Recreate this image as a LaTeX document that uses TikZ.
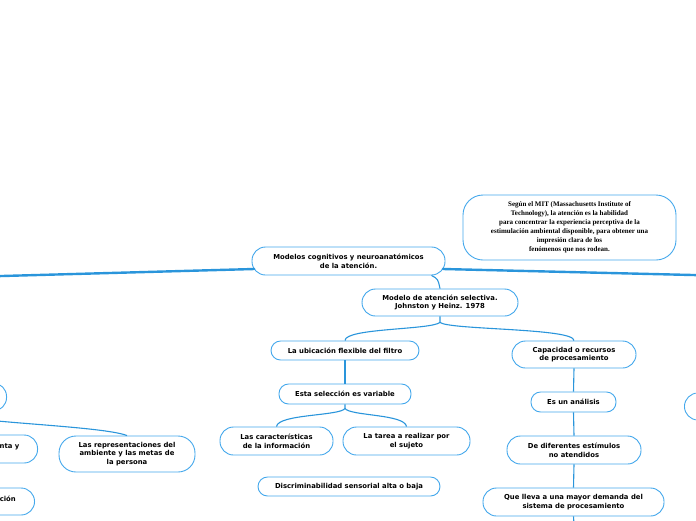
\documentclass[tikz,border=0pt]{standalone}
\usepackage{fontspec}
\usetikzlibrary{calc}
\newfontfamily\nodefont{DejaVu Sans}
\newfontfamily\notefont{Liberation Serif}
\definecolor{linkblue}{HTML}{2A95DB}
\definecolor{boxblue}{HTML}{44A8EC}
\begin{document}
\begin{tikzpicture}[x=1pt,y=-1pt,
  box/.style={draw=boxblue,line width=0.9pt,fill=white,inner sep=0pt,align=center,
    font=\nodefont\bfseries\fontsize{6.85}{8.7}\selectfont,text=black},
  pilltall/.style={box,rounded corners=13.5pt,minimum height=28pt},
  pillshort/.style={box,rounded corners=9.5pt,minimum height=20pt},
  notebox/.style={box,rounded corners=20pt,minimum width=213pt,minimum height=65pt,
    font=\notefont\bfseries\fontsize{7}{8.9}\selectfont},
  edgetext/.style={inner sep=0pt,font=\nodefont\bfseries\fontsize{6.85}{8.7}\selectfont,text=black},
  thick link/.style={draw=linkblue,line width=2.4pt,line cap=round},
  thin link/.style={draw=linkblue,line width=1.1pt},
]
\useasboundingbox (0,0) rectangle (696,520);
\clip (0,0) rectangle (696,520);

% main nodes
\node[pilltall,minimum width=193pt] (root) at (348.5,261) {Modelos cognitivos y neuroanatómicos\\de la atención.};
\node[notebox] (note) at (569.5,227.5) {Según el MIT (Massachusetts Institute of\\Technology), la atención es la habilidad\\para concentrar la experiencia perceptiva de la\\estimulación ambiental disponible, para obtener una\\impresión clara de los\\fenómenos que nos rodean.};
\node[pilltall,minimum width=156pt,minimum height=27pt] (modelo) at (440,302.5) {Modelo de atención selectiva.\\Johnston y Heinz. 1978};
\node[pillshort,minimum width=148pt,minimum height=19pt] (ubic) at (345,350.5) {La ubicación flexible del filtro};
\node[pilltall,minimum width=124pt,minimum height=27pt] (capac) at (574,354.5) {Capacidad o recursos\\de procesamiento};
\node[pillshort,minimum width=132pt] (esta) at (345,394) {Esta selección es variable};
\node[pillshort,minimum width=85pt] (analisis) at (573.5,402) {Es un análisis};
\node[pilltall,minimum width=113pt] (caract) at (276.5,441) {Las características\\de la información};
\node[pilltall,minimum width=127pt] (tarea) at (406.5,441) {La tarea a realizar por\\el sujeto};
\node[pillshort,minimum width=182pt,minimum height=19pt] (discr) at (349,486.5) {Discriminabilidad sensorial alta o baja};
\node[pilltall,minimum width=134pt] (difer) at (574,450) {De diferentes estímulos\\no atendidos};
\node[pilltall,minimum width=181pt] (lleva) at (573.5,502) {Que lleva a una mayor demanda del\\sistema de procesamiento};
\node[box,rounded corners=17pt,minimum width=136pt,minimum height=36pt] (repres) at (127,454) {Las representaciones del\\ambiente y las metas de\\la persona};

% partial nodes at the edges
\node[pilltall,anchor=east,minimum width=120pt] (leftA) at (7,397) {};
\node[pilltall,anchor=east,minimum width=110pt] (leftB) at (38,449) {};
\node[pilltall,anchor=east,minimum width=110pt,minimum height=27pt] (leftC) at (35,501.5) {};
\node[pilltall,anchor=west,minimum width=100pt,minimum height=27pt] (rightA) at (684,406.5) {};
\node[edgetext,anchor=east] (leftBtext) at (19.5,446.5) {nta y};
\node[edgetext,anchor=east] (leftCtext) at (16,498.5) {ción};

% free ends
\coordinate (Lend) at (-5,276.2);
\coordinate (Rend) at (701,275.2);
\coordinate (Bend) at (574,525);

% connectors
\draw[thick link] ($(root.west)+(2.5,8)$) -- (Lend);
\draw[thick link] ($(root.east)+(-2.5,8)$) -- (Rend);
\draw[thin link] ($(root.south east)+(-14,0)$) .. controls (438,279) .. (modelo.north);

\draw[thin link] (modelo.south) -- ++(0,6) coordinate (jm)
  .. controls (430,330) and (345,328) .. (ubic.north);
\draw[thin link] (jm) .. controls (450,330) and (574,328) .. (capac.north);

\draw[thin link] (ubic.south) -- (esta.north);
\draw[thin link] (esta.south) -- ++(0,4) coordinate (je)
  .. controls (340,416) and (278,414) .. (caract.north);
\draw[thin link] (je) .. controls (350,416) and (405,414) .. (tarea.north);

\draw[thin link] (capac.south) -- (analisis.north);
\draw[thin link] (analisis.south) -- (difer.north);
\draw[thin link] (difer.south) -- (lleva.north);
\draw[thin link] (lleva.south) -- (Bend);

\draw[thin link] (leftA.south) .. controls (-53,422) and (100,425) .. (repres.north);
\end{tikzpicture}
\end{document}
